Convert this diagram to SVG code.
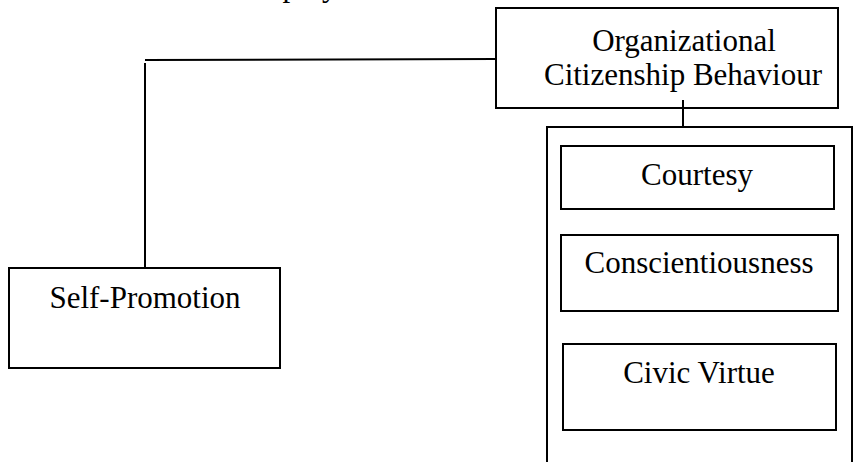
<svg xmlns="http://www.w3.org/2000/svg" width="861" height="462" viewBox="0 0 861 462">
<style>
.box{fill:#fff;stroke:#000;stroke-width:2}
.ln{stroke:#000;stroke-width:2;fill:none}
text{font-family:"Liberation Serif","Times New Roman",serif;font-size:31px;fill:#000;text-anchor:middle}
</style>
<rect width="861" height="462" fill="#fff"/>
<text x="310" y="-4">ploy</text>
<g id="ocb">
<rect class="box" x="496" y="8" width="342" height="100"/>
<text x="684" y="51">Organizational</text>
<text x="683" y="85">Citizenship Behaviour</text>
</g>
<g id="dimensions">
<path class="ln" d="M547,462 V127 H852 V462"/>
</g>
<g id="courtesy">
<rect class="box" x="561" y="146" width="273" height="63"/>
<text x="697" y="185">Courtesy</text>
</g>
<g id="conscientiousness">
<rect class="box" x="561" y="235" width="277" height="76"/>
<text x="699" y="273">Conscientiousness</text>
</g>
<g id="civic-virtue">
<rect class="box" x="563" y="344" width="273" height="86"/>
<text x="699" y="383">Civic Virtue</text>
</g>
<g id="self-promotion">
<rect class="box" x="9" y="268" width="271" height="100"/>
<text x="145" y="308">Self-Promotion</text>
</g>
<g id="connectors">
<line class="ln" x1="145" y1="60" x2="496" y2="59"/>
<line class="ln" x1="145" y1="63" x2="145" y2="268"/>
<line class="ln" x1="683" y1="100" x2="683" y2="127"/>
</g>
</svg>
